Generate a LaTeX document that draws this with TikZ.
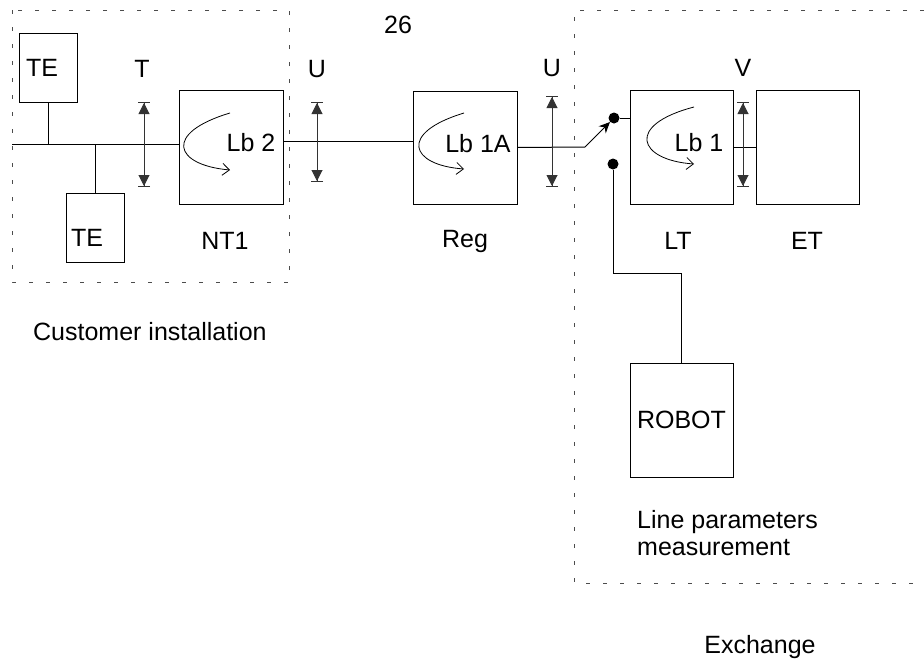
\documentclass[tikz,border=0pt]{standalone}
\usepackage{fontspec}
\setmainfont{Liberation Sans}
\usepackage{tikz}
\usetikzlibrary{arrows.meta,positioning}

\begin{document}
\begin{tikzpicture}[
  x=1pt, y=-1pt,
  every node/.style={font=\fontsize{25}{27}\selectfont, inner sep=0pt},
  box/.style={draw, line width=1pt, minimum width=103pt, minimum height=114pt},
  tebox/.style={draw, line width=1pt, minimum width=58pt, minimum height=69pt},
  wire/.style={line width=1pt},
  zone/.style={line width=1pt, gray!60!black, dash pattern=on 4pt off 13pt},
  iface/.style={line width=1pt, black!80,
    {Bar[width=12pt]Triangle[length=11pt,width=11pt]}-{Triangle[length=11pt,width=11pt]Bar[width=12pt]}},
  loop/.style={line width=0.8pt, -{Straight Barb[length=7pt,width=12pt]}},
  arrow/.style={line width=1pt, -{Stealth[length=11pt,width=10pt]}},
  dot/.style={circle, fill, minimum size=11pt}
]
\useasboundingbox (0,0) rectangle (924,659);

% zones
\draw[zone] (12,10) rectangle (289,282);
\draw[zone] (924,10) -- (574,10) -- (574,583) -- (924,583);

% customer side
\node[tebox] (te1) at (48,67.5) {};
\node[tebox] (te2) at (95.5,227.5) {};
\node at (42,68) {TE};
\node at (87,238) {TE};
\coordinate (bus) at (12,144);
\node[box, minimum width=104pt] (nt1) at (231,147) {};
\node at (251,143) {Lb 2};
\node at (225,241) {NT1};

% regenerator and exchange
\node[box, minimum width=104pt, minimum height=113pt] (reg) at (465,147.5) {};
\node at (478,144) {Lb 1A};
\node at (465,241) {Reg};
\node[box] (lt) at (681.5,147) {};
\node[box] (et) at (807.5,147) {};
\node at (699,143) {Lb 1};
\node at (678,241) {LT};
\node at (807,241) {ET};
\node[box] (robot) at (681.5,420) {ROBOT};
\node[anchor=west, align=left] (meas) at (637,533) {Line parameters\\measurement};

\node[dot] (sw1) at (614,118) {};
\node[dot] (sw2) at (613,164) {};
\coordinate (kink) at (585,147);

% labels
\node at (398,25) {26};
\node at (142,69) {T};
\node at (317,69) {U};
\node at (552,68) {U};
\node at (743,68) {V};
\node[anchor=west] (cust) at (33,332) {Customer installation};
\node at (760,647) {Exchange};

% wiring
\draw[wire] (bus) -- (bus -| nt1.west);
\draw[wire] (te1.south) -- (te1.south |- bus);
\draw[wire] (te2.north) -- (te2.north |- bus);
\draw[wire] ([yshift=6pt]nt1.east) -- ([yshift=6pt]nt1.east -| reg.west);
\draw[wire] (reg.east) -- (kink);
\draw[arrow] (kink) -- (sw1);
\draw[wire] (sw1) -- (sw1 -| lt.west);
\draw[wire] (lt.east) -- (et.west);
\draw[wire] (sw2) -- (613,273) -| (robot.north);

% interfaces
\draw[iface] (144,102) -- (144,187);
\draw[iface] (317,102) -- (317,182);
\draw[iface] (552,96) -- (552,187);
\draw[iface] (743,102) -- (743,187);

% loops
\draw[loop] (230,113) .. controls (163,133) and (174,165) .. (230,170);
\draw[loop] (464,113) .. controls (398,133) and (410,165) .. (464,169);
\draw[loop] (694,107) .. controls (625,125) and (638,160) .. (694,164);
\end{tikzpicture}
\end{document}
